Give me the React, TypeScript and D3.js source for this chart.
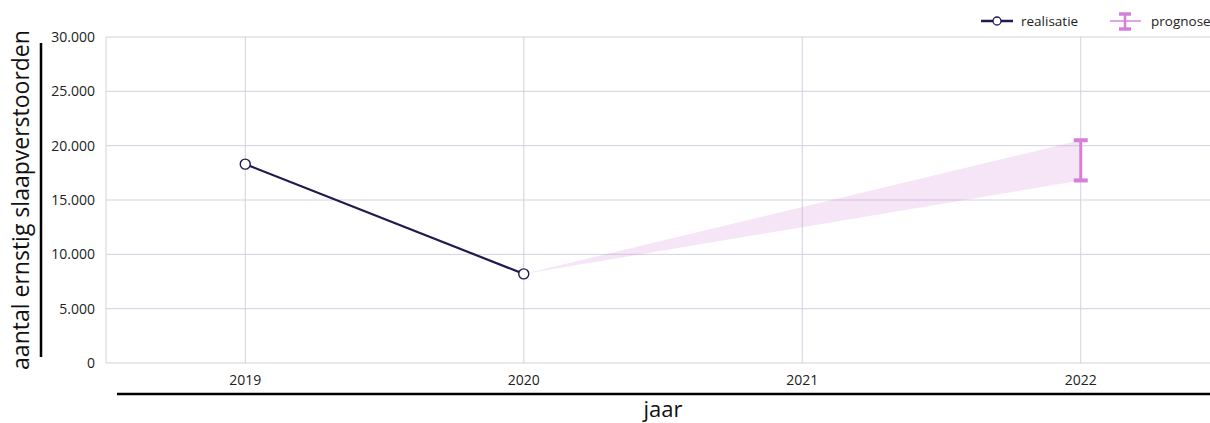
import { useEffect, useRef } from "react";
import * as d3 from "d3";

const years = ["2019", "2020", "2021", "2022"];
const realisatie = [
  { year: "2019", value: 18300 },
  { year: "2020", value: 8200 },
];
const prognoseBand = [
  { year: "2020", low: 8200, high: 8200 },
  { year: "2022", low: 16800, high: 20500 },
];
const prognose = [{ year: "2022", low: 16800, high: 20500 }];
const yTicks = [0, 5000, 10000, 15000, 20000, 25000, 30000];

const W = 1210;
const H = 423;
const NAVY = "#1f1a4f";
const PINK = "#d47fd8";
const GRID = "#d3d0e0";
const FONT = "'Open Sans', 'Noto Sans', sans-serif";

const fmt = (v: number) => d3.format(",")(v).replace(/,/g, ".");

export default function App() {
  const ref = useRef<SVGSVGElement>(null);

  useEffect(() => {
    if (!ref.current) return;
    const svg = d3.select(ref.current);
    svg.selectAll("*").remove();

    const left = 106;
    const right = 1220;
    const top = 37;
    const bottom = 363;

    const x = d3.scalePoint<string>().domain(years).range([left, right]).padding(0.5);
    const y = d3.scaleLinear().domain([0, 30000]).range([bottom, top]);

    const grid = svg.append("g");

    // grid
    grid
      .append("g")
      .selectAll("line")
      .data(yTicks)
      .enter()
      .append("line")
      .attr("x1", left)
      .attr("x2", right)
      .attr("y1", (d) => y(d))
      .attr("y2", (d) => y(d))
      .attr("stroke", GRID)
      .attr("stroke-width", 1);

    grid
      .append("g")
      .selectAll("line")
      .data(years)
      .enter()
      .append("line")
      .attr("x1", (d) => x(d)!)
      .attr("x2", (d) => x(d)!)
      .attr("y1", top)
      .attr("y2", bottom)
      .attr("stroke", GRID)
      .attr("stroke-width", 1);

    grid
      .append("line")
      .attr("x1", left)
      .attr("x2", left)
      .attr("y1", top)
      .attr("y2", bottom)
      .attr("stroke", GRID);

    // y tick labels
    svg
      .append("g")
      .selectAll("text")
      .data(yTicks)
      .enter()
      .append("text")
      .attr("x", 95)
      .attr("y", (d) => y(d))
      .attr("dy", "0.35em")
      .attr("text-anchor", "end")
      .attr("font-family", FONT)
      .attr("font-size", 14)
      .attr("fill", "#222")
      .text((d) => fmt(d));

    // x tick labels
    svg
      .append("g")
      .selectAll("text")
      .data(years)
      .enter()
      .append("text")
      .attr("x", (d) => x(d)!)
      .attr("y", 385)
      .attr("text-anchor", "middle")
      .attr("font-family", FONT)
      .attr("font-size", 14)
      .attr("fill", "#222")
      .text((d) => d);

    // axis titles and bars
    svg
      .append("line")
      .attr("x1", 117)
      .attr("x2", W)
      .attr("y1", 394)
      .attr("y2", 394)
      .attr("stroke", "#000")
      .attr("stroke-width", 2.5);
    svg
      .append("text")
      .attr("x", 663)
      .attr("y", 417)
      .attr("text-anchor", "middle")
      .attr("font-family", FONT)
      .attr("font-size", 22)
      .attr("fill", "#111")
      .text("jaar");

    svg
      .append("line")
      .attr("x1", 41)
      .attr("x2", 41)
      .attr("y1", 43)
      .attr("y2", 357)
      .attr("stroke", "#000")
      .attr("stroke-width", 2.5);
    svg
      .append("text")
      .attr("transform", `translate(29, 200) rotate(-90)`)
      .attr("text-anchor", "middle")
      .attr("font-family", FONT)
      .attr("font-size", 23)
      .attr("fill", "#111")
      .text("aantal ernstig slaapverstoorden");

    // prognose band
    const area = d3
      .area<(typeof prognoseBand)[number]>()
      .x((d) => x(d.year)!)
      .y0((d) => y(d.low))
      .y1((d) => y(d.high));
    svg
      .append("path")
      .attr("d", area(prognoseBand))
      .attr("fill", PINK)
      .attr("fill-opacity", 0.2);

    // error bar
    const eb = svg.append("g").selectAll("g").data(prognose).enter().append("g");
    eb.append("line")
      .attr("x1", (d) => x(d.year)!)
      .attr("x2", (d) => x(d.year)!)
      .attr("y1", (d) => y(d.low))
      .attr("y2", (d) => y(d.high))
      .attr("stroke", PINK)
      .attr("stroke-width", 3);
    for (const k of ["low", "high"] as const) {
      eb.append("line")
        .attr("x1", (d) => x(d.year)! - 7)
        .attr("x2", (d) => x(d.year)! + 7)
        .attr("y1", (d) => y(d[k]))
        .attr("y2", (d) => y(d[k]))
        .attr("stroke", PINK)
        .attr("stroke-width", 4);
    }

    // realisatie line
    const line = d3
      .line<(typeof realisatie)[number]>()
      .x((d) => x(d.year)!)
      .y((d) => y(d.value));
    svg
      .append("path")
      .attr("d", line(realisatie))
      .attr("fill", "none")
      .attr("stroke", NAVY)
      .attr("stroke-width", 2.2);
    svg
      .append("g")
      .selectAll("circle")
      .data(realisatie)
      .enter()
      .append("circle")
      .attr("cx", (d) => x(d.year)!)
      .attr("cy", (d) => y(d.value))
      .attr("r", 5)
      .attr("fill", "#fff")
      .attr("stroke", NAVY)
      .attr("stroke-width", 1.4);

    // legend
    const lg = svg.append("g");
    lg.append("line")
      .attr("x1", 981)
      .attr("x2", 1013)
      .attr("y1", 21)
      .attr("y2", 21)
      .attr("stroke", NAVY)
      .attr("stroke-width", 2.5);
    lg.append("circle")
      .attr("cx", 997)
      .attr("cy", 21)
      .attr("r", 4)
      .attr("fill", "#fff")
      .attr("stroke", NAVY)
      .attr("stroke-width", 1.3);
    lg.append("text")
      .attr("x", 1021)
      .attr("y", 21)
      .attr("dy", "0.35em")
      .attr("font-family", FONT)
      .attr("font-size", 13.5)
      .attr("fill", "#222")
      .text("realisatie");

    lg.append("line")
      .attr("x1", 1110)
      .attr("x2", 1141)
      .attr("y1", 21)
      .attr("y2", 21)
      .attr("stroke", PINK)
      .attr("stroke-width", 2)
      .attr("stroke-opacity", 0.7);
    lg.append("line")
      .attr("x1", 1125)
      .attr("x2", 1125)
      .attr("y1", 14)
      .attr("y2", 29)
      .attr("stroke", PINK)
      .attr("stroke-width", 2.5);
    for (const cy of [14, 29]) {
      lg.append("line")
        .attr("x1", 1119)
        .attr("x2", 1131)
        .attr("y1", cy)
        .attr("y2", cy)
        .attr("stroke", PINK)
        .attr("stroke-width", 3.5);
    }
    lg.append("text")
      .attr("x", 1151)
      .attr("y", 21)
      .attr("dy", "0.35em")
      .attr("font-family", FONT)
      .attr("font-size", 13.5)
      .attr("fill", "#222")
      .text("prognose");
  }, []);

  return (
    <div
      style={{
        position: "absolute",
        left: 0,
        top: 0,
        width: W,
        height: H,
        overflow: "hidden",
        background: "#fff",
      }}
    >
      <svg ref={ref} width={W} height={H} style={{ display: "block" }} />
    </div>
  );
}
